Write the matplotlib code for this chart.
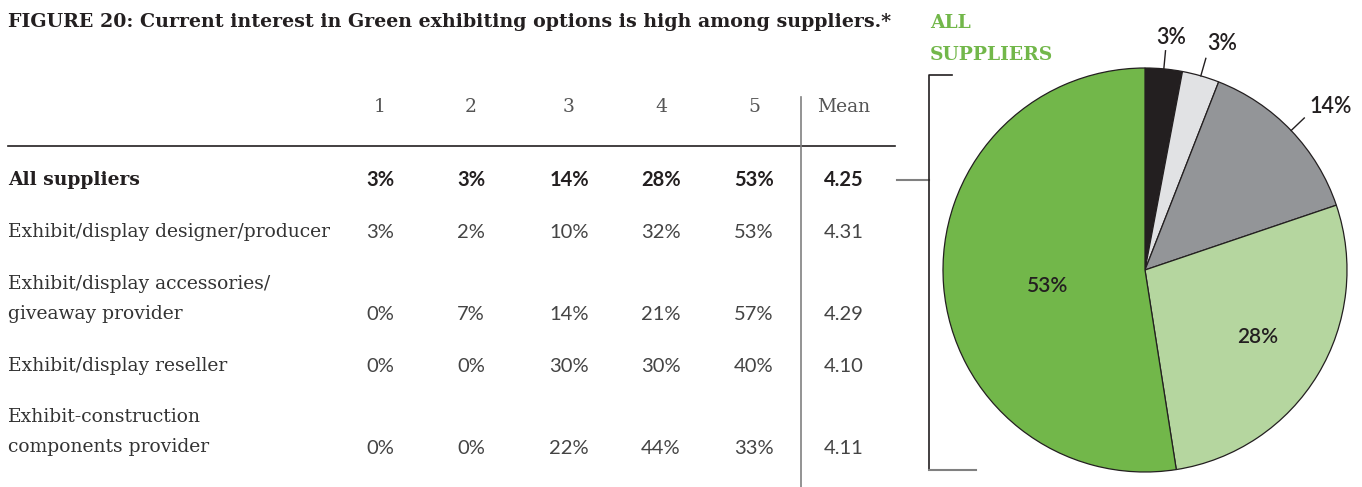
import matplotlib
matplotlib.use("Agg")
import matplotlib.pyplot as plt
import numpy as np

# ---- data ----
columns = ["1", "2", "3", "4", "5", "Mean"]
row_labels = [
    "All suppliers",
    "Exhibit/display designer/producer",
    "Exhibit/display accessories/\ngiveaway provider",
    "Exhibit/display reseller",
    "Exhibit-construction\ncomponents provider",
]
pct_1 = [3, 3, 0, 0, 0]
pct_2 = [3, 2, 7, 0, 0]
pct_3 = [14, 10, 14, 30, 22]
pct_4 = [28, 32, 21, 30, 44]
pct_5 = [53, 53, 57, 40, 33]
means = [4.25, 4.31, 4.29, 4.10, 4.11]

pie_labels = ["1", "2", "3", "4", "5"]
pie_values = [3, 3, 14, 28, 53]
pie_colors = ["#231f20", "#e1e2e4", "#939598", "#b5d69f", "#72b74a"]

title = "FIGURE 20: Current interest in Green exhibiting options is high among suppliers.*"
pie_title = "ALL\nSUPPLIERS"

W, H = 1362, 487
fig = plt.figure(figsize=(W / 100, H / 100), dpi=100)
ax = fig.add_axes([0, 0, 1, 1])
ax.set_xlim(0, W)
ax.set_ylim(H, 0)
ax.axis("off")

ink = "#231f20"
green = "#72b74a"
serif = ["DejaVu Serif"]
sans = ["Lato", "DejaVu Sans"]

ax.text(8, 22, title, fontsize=13.7, fontweight="heavy", family=serif,
        color=ink, va="center", ha="left")

# table header
col_x = [380, 471, 569, 661, 754, 844]
for x, c in zip(col_x, columns):
    ax.text(x, 107, c, fontsize=13.5, family=serif, color="#555",
            va="center", ha="center")
ax.plot([8, 895], [146, 146], color=ink, lw=1.2)
ax.plot([801, 801], [97, 487], color="#808080", lw=1.2)

# table rows
row_y = [180, 232, 315, 366, 449]
label_y = [180, 232, 299, 366, 432]
for i, lab in enumerate(row_labels):
    bold = i == 0
    ax.text(8, label_y[i], lab, fontsize=13.5, family=serif,
            color=ink if bold else "#333", va="center", ha="left",
            linespacing=1.9, fontweight="bold" if bold else "normal")
    vals = [pct_1[i], pct_2[i], pct_3[i], pct_4[i], pct_5[i]]
    for x, v in zip(col_x[:5], vals):
        ax.text(x, row_y[i], f"{v}%", fontsize=14.5, family=sans,
                color=ink if bold else "#444", va="center", ha="center",
                fontweight="bold" if bold else "normal")
    ax.text(col_x[5], row_y[i], f"{means[i]:.2f}", fontsize=14.5,
            family=sans, color=ink if bold else "#444", va="center",
            ha="center", fontweight="bold" if bold else "normal")

# bracket linking the "All suppliers" row to the pie
ax.plot([897, 929], [180, 180], color="#808080", lw=1.5)
ax.plot([952, 929, 929], [75, 75, 470], color=ink, lw=1.2)
ax.plot([929, 976], [470, 470], color="#808080", lw=1.5)

ax.text(930, 39, pie_title, fontsize=13.5, fontweight="heavy", family=serif,
        color=green, va="center", ha="left", linespacing=2.0)

# pie
cx, cy, r = 1145, 270, 202
pax = fig.add_axes([(cx - r) / W, (H - cy - r) / H, 2 * r / W, 2 * r / H])
wedges, _ = pax.pie(pie_values, colors=pie_colors, startangle=90,
                    counterclock=False, radius=1,
                    wedgeprops=dict(edgecolor=ink, linewidth=0.9))
pax.set_xlim(-1, 1)
pax.set_ylim(-1, 1)
pax.set_aspect("equal")
pax.axis("off")

outside = {0: (0.13, 1.15), 1: (0.38, 1.12), 2: (0.92, 0.81)}
inside = {3: (0.56, -0.33), 4: (-0.48, -0.08)}
for i, w in enumerate(wedges):
    ang = np.deg2rad((w.theta1 + w.theta2) / 2)
    label = f"{pie_values[i]}%"
    if i in outside:
        ca, sa = np.cos(ang), np.sin(ang)
        pax.plot([ca * 1.0, ca * 1.09], [sa * 1.0, sa * 1.09], color=ink,
                 lw=1.0, clip_on=False)
        tx, ty = outside[i]
        pax.text(tx, ty, label, fontsize=15.5, family=sans, color=ink,
                 ha="center", va="center", fontweight="semibold",
                 clip_on=False)
    else:
        tx, ty = inside[i]
        pax.text(tx, ty, label, fontsize=15, family=sans, color=ink,
                 ha="center", va="center", fontweight="semibold")

fig.savefig("out.png", dpi=100)
